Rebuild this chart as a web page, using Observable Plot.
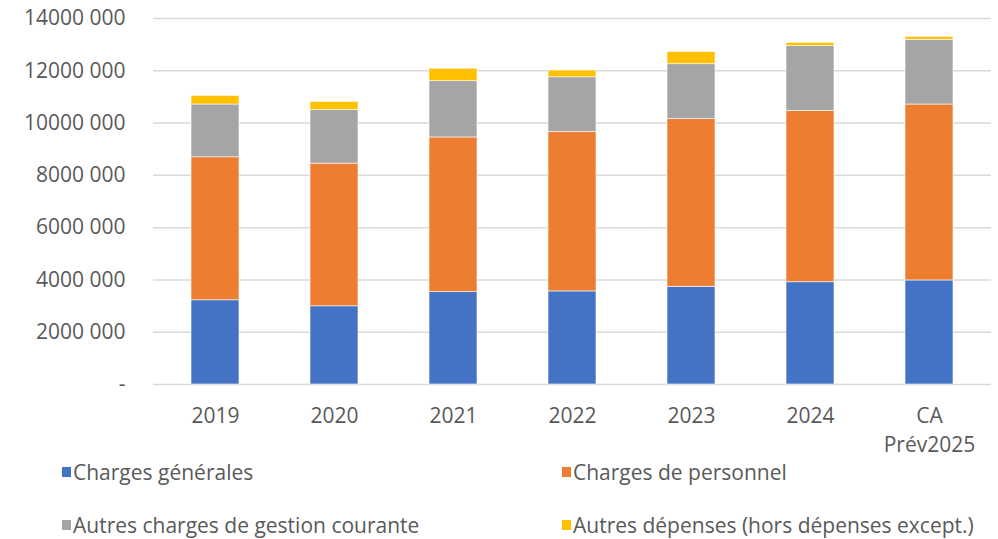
<!DOCTYPE html>
<html>
<head>
<meta charset="utf-8">
<script src="https://cdn.jsdelivr.net/npm/d3@7"></script>
<script src="https://cdn.jsdelivr.net/npm/@observablehq/plot@0.6"></script>
<style>
  html, body { margin: 0; padding: 0; background: #fff; }
  #wrap { position: relative; width: 998px; height: 539px; font-family: "Open Sans", sans-serif; color: #595959; }
  #wrap svg { position: absolute; left: 0; top: 0; }
  .leg { position: absolute; font-size: 21px; display: flex; align-items: center; white-space: nowrap; }
  .sw { width: 9px; height: 10px; margin-right: 2px; }
</style>
</head>
<body>
<div id="wrap"></div>
<script>
const categories = ["2019", "2020", "2021", "2022", "2023", "2024", "CA\nPrév2025"];
const seriesNames = ["Charges générales", "Charges de personnel", "Autres charges de gestion courante", "Autres dépenses (hors dépenses except.)"];
const seriesColors = ["#4472C4", "#ED7D31", "#A5A5A5", "#FFC000"];
const chargesGenerales = [3220000, 2990000, 3530000, 3560000, 3740000, 3910000, 3980000];
const chargesPersonnel = [5470000, 5460000, 5920000, 6090000, 6410000, 6560000, 6730000];
const autresGestion    = [2020000, 2050000, 2150000, 2100000, 2100000, 2470000, 2480000];
const autresDepenses   = [330000, 310000, 480000, 260000, 470000, 130000, 110000];
const yTicks = [0, 2000000, 4000000, 6000000, 8000000, 10000000, 12000000, 14000000];
const yTickLabels = ["-", "2000 000", "4000 000", "6000 000", "8000 000", "10000 000", "12000 000", "14000 000"];

const seriesValues = [chargesGenerales, chargesPersonnel, autresGestion, autresDepenses];
const data = [];
seriesNames.forEach((s, si) => categories.forEach((c, ci) => data.push({cat: c, serie: s, value: seriesValues[si][ci]})));

const chart = Plot.plot({
  width: 998,
  height: 460,
  marginTop: 18,
  marginBottom: 76,
  marginLeft: 153,
  marginRight: 7,
  style: {fontFamily: "Open Sans, sans-serif", color: "#595959", background: "transparent"},
  x: {domain: categories, paddingInner: 0.6, paddingOuter: 0.3, label: null},
  y: {domain: [0, 14000000], label: null},
  color: {domain: seriesNames, range: seriesColors},
  marks: [
    Plot.gridY(yTicks, {stroke: "#d9d9d9", strokeOpacity: 1, strokeWidth: 1.5}),
    Plot.barY(data, Plot.stackY({x: "cat", y: "value", fill: "serie", order: seriesNames, stroke: "white", strokeWidth: 0.6})),
    Plot.axisY({ticks: yTicks, tickFormat: (d) => yTickLabels[yTicks.indexOf(d)], tickSize: 0, tickPadding: 28, fontSize: 21, fill: "#595959", label: null}),
    Plot.axisX({tickSize: 0, tickPadding: 18, fontSize: 21, fill: "#595959", lineHeight: 1.38, label: null})
  ]
});
const wrap = document.getElementById("wrap");
wrap.appendChild(chart);

const legPos = [[62, 473], [562, 473], [62, 526], [562, 526]];
seriesNames.forEach((s, i) => {
  const d = document.createElement("div");
  d.className = "leg";
  d.style.left = legPos[i][0] + "px";
  d.style.top = (legPos[i][1] - 15) + "px";
  d.innerHTML = `<span class="sw" style="background:${seriesColors[i]}"></span><span>${s}</span>`;
  wrap.appendChild(d);
});
</script>
</body>
</html>
